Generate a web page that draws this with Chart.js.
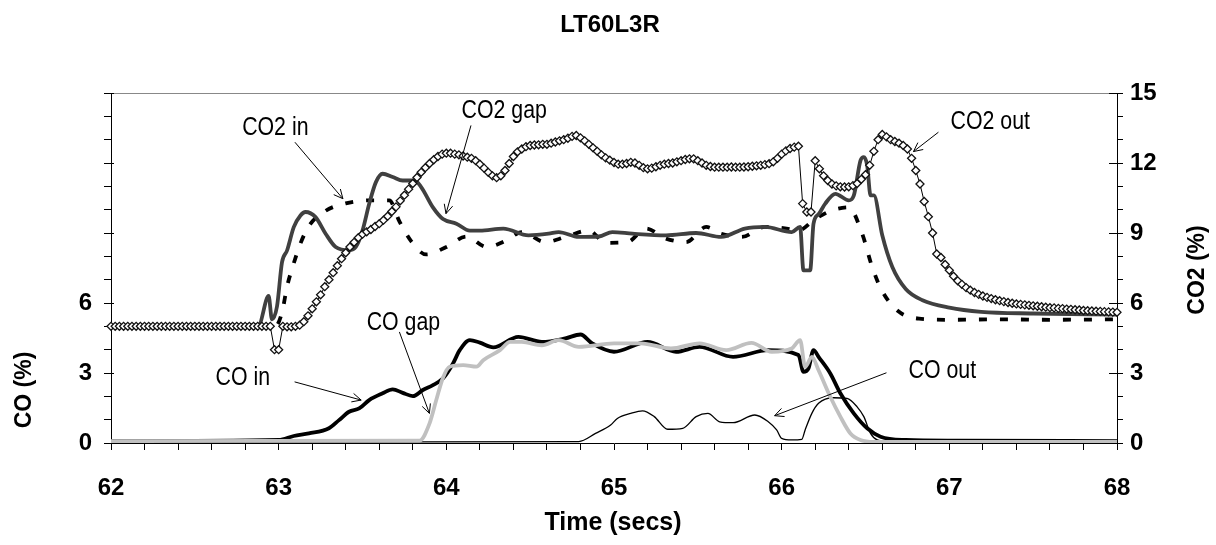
<!DOCTYPE html>
<html><head><meta charset="utf-8">
<script src="https://cdn.jsdelivr.net/npm/chart.js@4.4.1/dist/chart.umd.min.js"></script>
<style>html,body{margin:0;padding:0;background:#fff;}#wrap{width:1216px;height:545px;}</style>
</head><body><div id="wrap"><canvas id="c" width="1216" height="545"></canvas></div>
<script>
// ---- DATA ----
const chartTitle = 'LT60L3R';
const xTitle = 'Time (secs)';
const yLeftTitle = 'CO (%)';
const yRightTitle = 'CO2 (%)';
const xRange = [62, 68];
const yRange = [0, 15];
const leftTickLabels = [0, 3, 6];
const rightTickLabels = [0, 3, 6, 9, 12, 15];

// CO2 out (diamonds), sampled every 0.025 s
const co2OutTime = [
62.000,62.025,62.050,62.075,62.100,62.125,62.150,62.175,62.200,62.225,
62.250,62.275,62.300,62.325,62.350,62.375,62.400,62.425,62.450,62.475,
62.500,62.525,62.550,62.575,62.600,62.625,62.650,62.675,62.700,62.725,
62.750,62.775,62.800,62.825,62.850,62.875,62.900,62.925,62.950,62.975,
63.000,63.025,63.050,63.075,63.100,63.125,63.150,63.175,63.200,63.225,
63.250,63.275,63.300,63.325,63.350,63.375,63.400,63.425,63.450,63.475,
63.500,63.525,63.550,63.575,63.600,63.625,63.650,63.675,63.700,63.725,
63.750,63.775,63.800,63.825,63.850,63.875,63.900,63.925,63.950,63.975,
64.000,64.025,64.050,64.075,64.100,64.125,64.150,64.175,64.200,64.225,
64.250,64.275,64.300,64.325,64.350,64.375,64.400,64.425,64.450,64.475,
64.500,64.525,64.550,64.575,64.600,64.625,64.650,64.675,64.700,64.725,
64.750,64.775,64.800,64.825,64.850,64.875,64.900,64.925,64.950,64.975,
65.000,65.025,65.050,65.075,65.100,65.125,65.150,65.175,65.200,65.225,
65.250,65.275,65.300,65.325,65.350,65.375,65.400,65.425,65.450,65.475,
65.500,65.525,65.550,65.575,65.600,65.625,65.650,65.675,65.700,65.725,
65.750,65.775,65.800,65.825,65.850,65.875,65.900,65.925,65.950,65.975,
66.000,66.025,66.050,66.075,66.100,66.125,66.150,66.175,66.200,66.225,
66.250,66.275,66.300,66.325,66.350,66.375,66.400,66.425,66.450,66.475,
66.500,66.525,66.550,66.575,66.600,66.625,66.650,66.675,66.700,66.725,
66.750,66.775,66.800,66.825,66.850,66.875,66.900,66.925,66.950,66.975,
67.000,67.025,67.050,67.075,67.100,67.125,67.150,67.175,67.200,67.225,
67.250,67.275,67.300,67.325,67.350,67.375,67.400,67.425,67.450,67.475,
67.500,67.525,67.550,67.575,67.600,67.625,67.650,67.675,67.700,67.725,
67.750,67.775,67.800,67.825,67.850,67.875,67.900,67.925,67.950,67.975,
68.000];
const co2OutValues = [
5,5,5,5,5,5,5,5,5,5,
5,5,5,5,5,5,5,5,5,5,
5,5,5,5,5,5,5,5,5,5,
5,5,5,5,5,5,5,5,5,4.0,
4.0,5.0,4.98,4.98,5.0,5.05,5.2,5.45,5.75,6.05,
6.35,6.7,7.0,7.3,7.6,7.9,8.15,8.4,8.6,8.8,
8.95,9.05,9.15,9.28,9.4,9.55,9.72,9.92,10.12,10.38,
10.62,10.88,11.12,11.38,11.6,11.8,11.98,12.14,12.28,12.38,
12.42,12.42,12.38,12.35,12.3,12.25,12.2,12.1,11.95,11.78,
11.6,11.45,11.37,11.45,11.68,11.98,12.28,12.48,12.6,12.7,
12.75,12.77,12.78,12.8,12.8,12.85,12.9,12.95,13.0,13.06,
13.14,13.18,13.08,12.95,12.8,12.65,12.5,12.35,12.22,12.12,
12.02,11.95,11.95,11.98,12.03,12.0,11.9,11.8,11.75,11.78,
11.84,11.9,11.95,11.98,12.0,12.05,12.1,12.15,12.18,12.18,
12.1,12.0,11.9,11.85,11.82,11.82,11.82,11.82,11.83,11.82,
11.82,11.83,11.84,11.86,11.88,11.9,11.93,11.97,12.05,12.2,
12.38,12.52,12.62,12.68,12.72,10.26,9.9,9.9,12.1,11.75,
11.45,11.25,11.1,11.02,10.98,10.97,10.98,11.03,11.12,11.3,
11.5,11.9,12.5,13.0,13.22,13.12,13.0,12.92,12.85,12.75,
12.6,12.2,11.68,11.1,10.35,9.7,9.0,8.1,7.95,7.65,
7.4,7.15,6.95,6.8,6.66,6.55,6.45,6.37,6.3,6.24,
6.19,6.14,6.1,6.06,6.02,5.99,5.96,5.94,5.92,5.9,
5.88,5.86,5.84,5.82,5.8,5.79,5.77,5.76,5.74,5.73,
5.71,5.7,5.68,5.67,5.66,5.65,5.64,5.63,5.62,5.61,
5.6];

// CO2 in (dashed)
const co2InTime = [62,62.98,63.02,63.05,63.09,63.13,63.18,63.28,63.4,63.54,63.66,63.72,63.79,63.88,64.0,64.12,64.24,64.36,64.45,64.59,64.71,64.85,64.95,65.08,65.19,65.31,65.43,65.55,65.64,65.76,65.9,66.03,66.1,66.2,66.3,66.4,66.48,66.54,66.6,66.7,66.82,67.0,67.3,67.6,68.0];
const co2InValues = [5.0,5.0,5.6,6.7,7.7,8.55,9.3,9.95,10.27,10.4,10.4,9.5,8.65,8.08,8.4,8.85,8.4,8.69,9.04,8.61,8.83,9.11,8.58,8.61,9.19,8.76,8.61,9.26,8.97,8.83,9.26,9.19,9.11,9.6,9.97,10.1,8.97,7.54,6.5,5.62,5.33,5.28,5.3,5.28,5.3];

// CO2 gap (dark grey)
const co2GapTime = [62,62.88,62.94,62.96,62.99,63.02,63.05,63.09,63.13,63.16,63.22,63.28,63.34,63.42,63.46,63.5,63.54,63.58,63.62,63.68,63.74,63.81,63.85,63.92,63.98,64.06,64.14,64.2,64.34,64.49,64.61,64.67,64.79,64.91,64.99,65.11,65.31,65.49,65.64,65.78,65.9,66.06,66.11,66.13,66.17,66.19,66.22,66.26,66.32,66.4,66.43,66.47,66.49,66.51,66.53,66.55,66.6,66.66,66.74,66.84,67.0,67.19,67.5,68];
const co2GapValues = [5.0,5.05,6.3,5.3,5.85,7.75,8.25,9.25,9.75,9.9,9.68,8.97,8.4,8.26,8.4,9.1,10.25,11.18,11.54,11.4,11.25,11.25,10.97,10.1,9.6,9.4,9.1,9.1,9.19,8.9,8.97,9.04,8.83,8.85,9.04,8.97,8.9,9.0,8.83,9.19,9.26,9.04,9.26,7.4,7.4,9.4,9.8,10.26,10.68,10.4,10.6,12.1,12.25,11.9,10.61,10.61,8.9,7.54,6.6,6.12,5.8,5.62,5.55,5.5];

// CO in (black)
const coInTime = [62,63.0,63.09,63.18,63.3,63.36,63.42,63.48,63.54,63.62,63.68,63.74,63.8,63.86,63.92,63.98,64.04,64.08,64.14,64.2,64.28,64.43,64.57,64.71,64.8,64.87,65.0,65.2,65.37,65.51,65.71,65.92,66.1,66.13,66.16,66.19,66.22,66.29,66.35,66.43,66.51,66.59,66.74,67.04,68];
const coInValues = [0.08,0.13,0.3,0.41,0.63,0.98,1.34,1.48,1.84,2.13,2.3,2.15,2.01,2.27,2.48,2.77,3.41,3.98,4.41,4.3,4.1,4.55,4.33,4.48,4.65,4.27,3.91,4.33,3.91,4.12,3.69,3.98,3.77,3.05,3.2,3.98,3.69,2.98,2.13,1.27,0.63,0.27,0.13,0.1,0.08];

// CO gap (light grey)
const coGapTime = [62,63.84,63.9,63.94,63.98,64.02,64.1,64.18,64.22,64.32,64.38,64.45,64.57,64.67,64.79,65.0,65.16,65.34,65.51,65.67,65.82,65.94,66.06,66.11,66.14,66.18,66.22,66.29,66.35,66.41,66.47,66.55,68];
const coGapValues = [0.08,0.1,0.84,1.84,2.8,3.27,3.34,3.27,3.55,3.98,4.33,4.33,4.19,4.41,4.12,4.27,4.27,4.05,4.27,3.98,4.29,3.91,4.05,4.41,3.26,3.69,3.12,1.98,1.13,0.41,0.13,0.05,0.05];

// CO out (thin black)
const coOutTime = [62,64.79,64.89,64.98,65.02,65.1,65.17,65.24,65.32,65.41,65.49,65.56,65.63,65.71,65.84,65.92,65.97,66.0,66.06,66.12,66.14,66.18,66.22,66.31,66.39,66.45,66.49,66.53,66.57,66.65,68];
const coOutValues = [0.03,0.06,0.41,0.77,1.05,1.27,1.38,1.13,0.59,0.63,1.13,1.27,0.91,0.87,1.2,0.91,0.56,0.2,0.13,0.16,0.56,1.27,1.7,1.94,1.91,1.55,1.13,0.41,0.13,0.05,0.05];

// Callout labels (text anchor and arrow, in data units)
const calloutText = ['CO2 in','CO2 gap','CO2 out','CO gap','CO in','CO out'];
const calloutAt   = [[62.98,13.56],[64.345,14.29],[67.244,13.82],[63.744,5.18],[62.786,2.82],[66.958,3.12]];
const arrowFrom   = [[63.097,12.89],[64.147,13.61],[66.935,13.32],[63.72,4.76],[63.095,2.62],[66.625,3.01]];
const arrowTo     = [[63.383,10.47],[63.998,9.83],[66.786,12.49],[63.899,1.27],[63.492,1.84],[65.958,1.17]];

// ---- BUILD ----
const pts = (t, v) => t.map((x, i) => ({x, y: v[i]}));
const FONT = '"Liberation Sans", Arial, Helvetica, sans-serif';

const deco = {
  id: 'deco',
  afterDraw(chart) {
    const {ctx, chartArea: ca, scales} = chart;
    const xs = scales.x, yl = scales.y, yr = scales.y2;
    ctx.save();
    ctx.strokeStyle = '#888'; ctx.lineWidth = 1;
    ctx.beginPath(); ctx.moveTo(ca.left, Math.round(ca.top) + 0.5); ctx.lineTo(ca.right, Math.round(ca.top) + 0.5); ctx.stroke();
    ctx.strokeStyle = '#000';
    rightTickLabels.forEach(v => {
      const pr = Math.round(yr.getPixelForValue(v)) + 0.5;
      ctx.beginPath(); ctx.moveTo(ca.right - 8, pr); ctx.lineTo(ca.right, pr); ctx.stroke();
      const pl = Math.round(yl.getPixelForValue(v)) + 0.5;
      ctx.beginPath(); ctx.moveTo(ca.left, pl); ctx.lineTo(ca.left + 3, pl); ctx.stroke();
    });
    ctx.fillStyle = '#000';
    ctx.textAlign = 'center'; ctx.textBaseline = 'middle';
    ctx.font = 'bold 24px ' + FONT;
    ctx.fillText(chartTitle, 610, 25);
    ctx.font = 'bold 25px ' + FONT;
    ctx.fillText(xTitle, 613, 523);
    ctx.font = 'bold 23px ' + FONT;
    ctx.save(); ctx.translate(25, 390); ctx.rotate(-Math.PI / 2); ctx.fillText(yLeftTitle, 0, 0); ctx.restore();
    ctx.save(); ctx.translate(1198, 270); ctx.rotate(-Math.PI / 2); ctx.fillText(yRightTitle, 0, 0); ctx.restore();
    ctx.font = '26px ' + FONT;
    calloutText.forEach((txt, i) => {
      const tx = xs.getPixelForValue(calloutAt[i][0]), ty = yr.getPixelForValue(calloutAt[i][1]);
      ctx.save(); ctx.translate(tx, ty); ctx.scale(0.82, 1);
      ctx.fillText(txt, 0, 1); ctx.restore();
      const x0 = xs.getPixelForValue(arrowFrom[i][0]), y0 = yr.getPixelForValue(arrowFrom[i][1]);
      const x1 = xs.getPixelForValue(arrowTo[i][0]), y1 = yr.getPixelForValue(arrowTo[i][1]);
      ctx.lineWidth = 1; ctx.strokeStyle = '#000';
      ctx.beginPath(); ctx.moveTo(x0, y0); ctx.lineTo(x1, y1); ctx.stroke();
      const a = Math.atan2(y1 - y0, x1 - x0), L = 10, w = 0.45;
      ctx.beginPath();
      ctx.moveTo(x1 - L * Math.cos(a - w), y1 - L * Math.sin(a - w));
      ctx.lineTo(x1, y1);
      ctx.lineTo(x1 - L * Math.cos(a + w), y1 - L * Math.sin(a + w));
      ctx.stroke();
    });
    ctx.restore();
  }
};

const tickFont = {family: FONT, size: 24, weight: 'bold'};
const lineBase = {pointRadius: 0, fill: false, cubicInterpolationMode: 'monotone'};

new Chart(document.getElementById('c'), {
  type: 'line',
  data: {
    datasets: [
      {label: 'CO2 out', data: pts(co2OutTime, co2OutValues), yAxisID: 'y2', borderColor: '#000', borderWidth: 1,
       pointStyle: 'rectRot', pointRadius: 4, pointBackgroundColor: '#fff', pointBorderColor: '#111', pointBorderWidth: 1.3, clip: false, tension: 0},
      {label: 'CO2 gap', data: pts(co2GapTime, co2GapValues), yAxisID: 'y2', borderColor: '#404040', borderWidth: 3.8, ...lineBase},
      {label: 'CO2 in', data: pts(co2InTime, co2InValues), yAxisID: 'y2', borderColor: '#000', borderWidth: 3.8, borderDash: [8, 13], borderCapStyle: 'butt', ...lineBase},
      {label: 'CO gap', data: pts(coGapTime, coGapValues), yAxisID: 'y', borderColor: '#c0c0c0', borderWidth: 3.8, ...lineBase},
      {label: 'CO in', data: pts(coInTime, coInValues), yAxisID: 'y', borderColor: '#000', borderWidth: 3.8, ...lineBase},
      {label: 'CO out', data: pts(coOutTime, coOutValues), yAxisID: 'y', borderColor: '#000', borderWidth: 1.3, ...lineBase}
    ]
  },
  options: {
    responsive: false, animation: false, devicePixelRatio: 1,
    layout: {padding: {top: 93, left: 0, right: 0, bottom: 0}},
    plugins: {legend: {display: false}, title: {display: false}, tooltip: {enabled: false}},
    scales: {
      x: {
        type: 'linear', min: xRange[0], max: xRange[1],
        afterFit(s) { s.height = 545 - 443; },
        border: {display: true, color: '#000', width: 1},
        grid: {drawOnChartArea: false, drawTicks: true, tickLength: 7, color: '#000'},
        ticks: {stepSize: 0.2, autoSkip: false, maxRotation: 0, padding: 24, color: '#000', font: tickFont,
          callback: v => Math.abs(v - Math.round(v)) < 1e-6 ? String(Math.round(v)) : ''}
      },
      y: {
        position: 'left', min: yRange[0], max: yRange[1],
        afterFit(s) { s.width = 111; },
        border: {display: true, color: '#000', width: 1},
        grid: {drawOnChartArea: false, drawTicks: true, tickLength: 7, color: '#000'},
        ticks: {stepSize: 1, autoSkip: false, padding: 12, color: '#000', font: tickFont,
          callback: v => leftTickLabels.includes(v) ? String(v) : ''}
      },
      y2: {
        position: 'right', min: yRange[0], max: yRange[1],
        afterFit(s) { s.width = 1216 - 1117; },
        border: {display: true, color: '#000', width: 1},
        grid: {drawOnChartArea: false, drawTicks: true, tickLength: 6, color: '#000'},
        ticks: {stepSize: 1, autoSkip: false, padding: 7, color: '#000', font: tickFont,
          callback: v => rightTickLabels.includes(v) ? String(v) : ''}
      }
    }
  },
  plugins: [deco]
});
</script></body></html>
